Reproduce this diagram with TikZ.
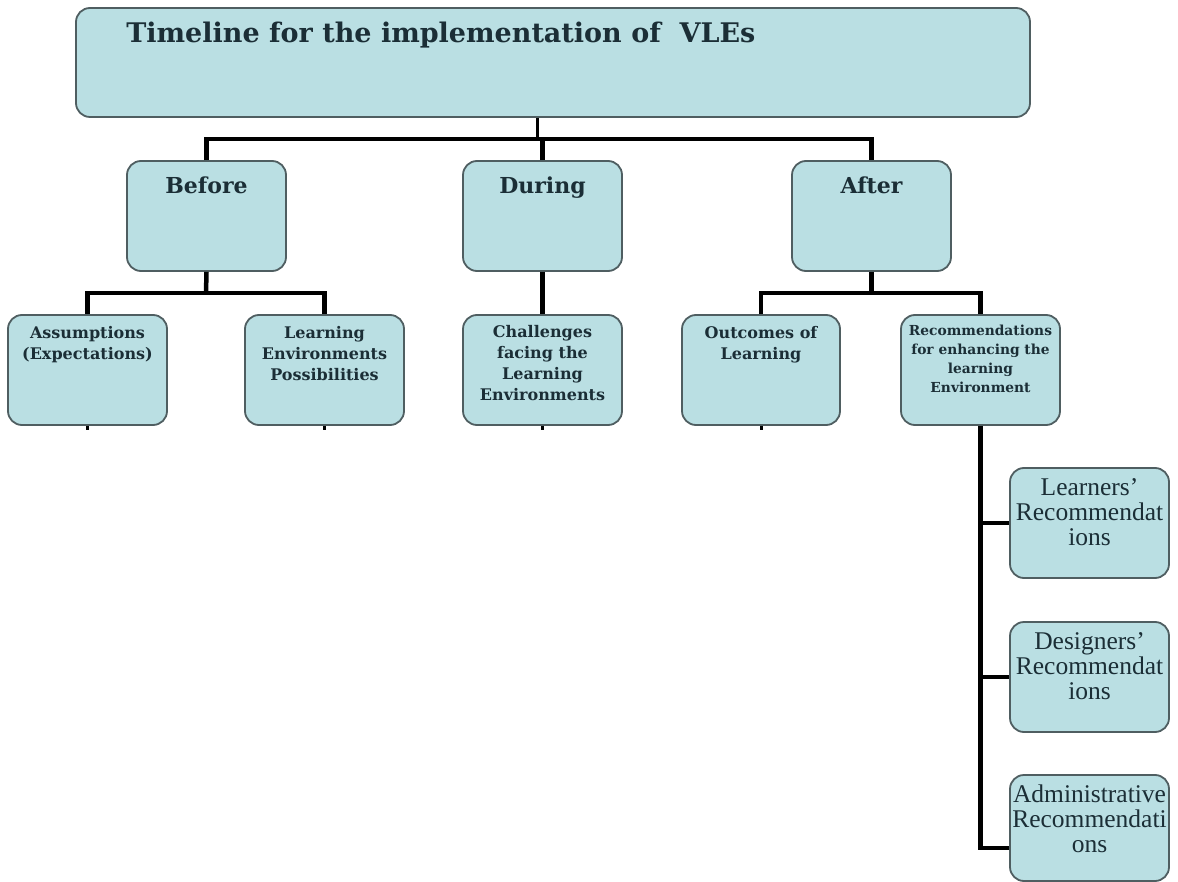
\documentclass[tikz,border=0pt]{standalone}
\usepackage{fontspec}
\setmainfont{Liberation Serif}
\newfontfamily\dvs{DejaVu Serif}
\definecolor{boxfill}{HTML}{BADFE3}
\definecolor{boxline}{HTML}{4F5E61}
\definecolor{txt}{HTML}{1B2E36}
\tikzset{
  box/.style={draw=boxline, line width=1.8pt, fill=boxfill, rounded corners=14pt, inner sep=0pt},
  conn/.style={draw=black, line width=4.5pt},
  thinconn/.style={draw=black, line width=3pt},
  lbl/.style={anchor=north, inner sep=0pt, text=txt, align=center},
  ttl/.style={lbl, font=\dvs\bfseries\fontsize{22}{26}\selectfont},
  sub/.style={lbl, font=\dvs\bfseries\fontsize{16}{21}\selectfont},
  subsm/.style={lbl, font=\dvs\bfseries\fontsize{13.8}{19}\selectfont},
  rec/.style={lbl, font=\fontsize{25.5}{25}\selectfont},
}
\begin{document}
\begin{tikzpicture}[x=1pt,y=-1pt]
\useasboundingbox (0,0) rectangle (1178,882);
% boxes
\node[box, minimum width=954pt, minimum height=109pt] (title) at (553,62.5) {};
\node[box, minimum width=159pt, minimum height=110pt] (before) at (206.5,216) {};
\node[box, minimum width=159pt, minimum height=110pt] (during) at (542.5,216) {};
\node[box, minimum width=159pt, minimum height=110pt] (after) at (871.5,216) {};
\node[box, minimum width=159pt, minimum height=110pt] (assump) at (87.5,370) {};
\node[box, minimum width=159pt, minimum height=110pt] (possib) at (324.5,370) {};
\node[box, minimum width=159pt, minimum height=110pt] (chall) at (542.5,370) {};
\node[box, minimum width=158pt, minimum height=110pt] (outc) at (761,370) {};
\node[box, minimum width=159pt, minimum height=110pt] (recom) at (980.5,370) {};
\node[box, minimum width=159pt, minimum height=110pt] (learn) at (1089.5,523) {};
\node[box, minimum width=159pt, minimum height=110pt] (design) at (1089.5,677) {};
\node[box, minimum width=159pt, minimum height=106pt] (admin) at (1089.5,828) {};
% labels
\node[anchor=north west, inner sep=0pt, text=txt, font=\dvs\bfseries\fontsize{27}{32}\selectfont] at ([xshift=51pt,yshift=-15pt]title.north west) {Timeline for the implementation of\ \ VLEs};
\node[ttl] at ([yshift=-16pt]before.north) {Before};
\node[ttl] at ([yshift=-16pt]during.north) {During};
\node[ttl] at ([yshift=-16pt]after.north) {After};
\node[sub] at ([yshift=-12pt]assump.north) {Assumptions\\(Expectations)};
\node[sub] at ([yshift=-12pt]possib.north) {Learning\\Environments\\Possibilities};
\node[sub] at ([yshift=-11pt]chall.north) {Challenges\\facing the\\Learning\\Environments};
\node[sub] at ([yshift=-12pt]outc.north) {Outcomes of\\Learning};
\node[subsm] at ([yshift=-11pt]recom.north) {Recommendations\\for enhancing the\\learning\\Environment};
\node[rec] at ([yshift=-11pt]learn.north) {Learners'\\Recommendat\\ions};
\node[rec] at ([yshift=-11pt]design.north) {Designers'\\Recommendat\\ions};
\node[rec] at ([yshift=-11pt]admin.north) {Administrative\\Recommendati\\ons};
% connectors level 1 -> 2
\coordinate (j0) at (537,139);
\coordinate (j1) at (206,293);
\coordinate (j2) at (871.5,293);
\coordinate (j3) at (980.5,848);
\draw[thinconn] (title.south -| j0) -- (j0);
\draw[conn] (before.north) -- (before.north |- j0) -- (after.north |- j0) -- (after.north);
\draw[conn] (during.north) -- (during.north |- j0);
% before -> level 3
\draw[conn] (before.south) -- (j1);
\draw[conn] (assump.north) -- (assump.north |- j1) -- (possib.north |- j1) -- (possib.north);
% during -> challenges
\draw[conn] (during.south) -- (chall.north);
% after -> level 3
\draw[conn] (after.south) -- (j2);
\draw[conn] (outc.north) -- (outc.north |- j2) -- (recom.north |- j2) -- (recom.north);
% recommendations -> level 4
\draw[conn] (recom.south) -- (j3);
\draw[conn] (recom.south |- learn.west) -- (learn.west);
\draw[conn] (recom.south |- design.west) -- (design.west);
\draw[conn] ([xshift=-2.25pt]j3) -- (j3 -| admin.west);
% small stubs under level-3 boxes
\foreach \n in {assump,possib,chall,outc}{
  \coordinate (\n-stub) at ([yshift=-4pt]\n.south);
  \draw[thinconn] (\n.south) -- (\n-stub);
}
\end{tikzpicture}
\end{document}
